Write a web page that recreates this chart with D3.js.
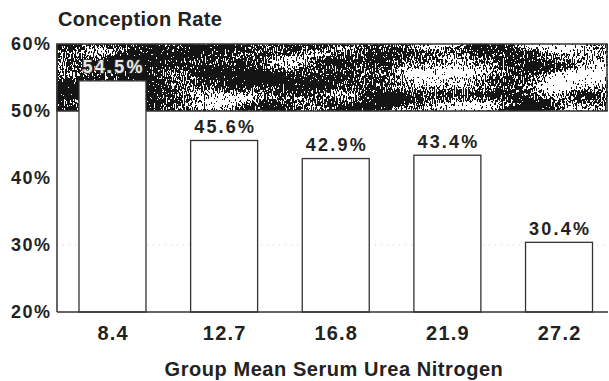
<!DOCTYPE html>
<html>
<head>
<meta charset="utf-8">
<script src="https://cdn.jsdelivr.net/npm/d3@7"></script>
<style>
  html, body { margin: 0; padding: 0; background: #fff; }
  svg { display: block; }
  text { font-family: "Liberation Sans", Arial, Helvetica, sans-serif; font-weight: bold; fill: #222; }
</style>
</head>
<body>
<svg id="chart" width="609" height="381"></svg>
<script>
// Conception rate by group mean serum urea nitrogen
const categories = ["8.4", "12.7", "16.8", "21.9", "27.2"];
const rates = [54.5, 45.6, 42.9, 43.4, 30.4];
const yTicks = [20, 30, 40, 50, 60];
const bandRange = [50, 60];   // shaded reference band
const gridLines = [30];

const W = 609, H = 381;
const svg = d3.select("#chart");
const margin = { left: 57, right: 1, top: 44, bottom: 69 };

const x = d3.scaleBand()
  .domain(categories)
  .range([margin.left, margin.left + 557.5])
  .paddingInner(0.4)
  .paddingOuter(0.197);

const y = d3.scaleLinear()
  .domain([20, 60])
  .range([H - margin.bottom, margin.top]);

const xRight = W - margin.right;

// grainy stipple texture for the band: fine streaky noise plus coarse blotches,
// shifted by a horizontal darkness gradient, then thresholded to black/white
const defs = svg.append("defs");
const grad = defs.append("linearGradient").attr("id", "bias")
  .attr("x1", 0).attr("x2", 1).attr("y1", 0).attr("y2", 0);
[[0, 0.7], [0.2, 0.76], [0.5, 0.7], [0.6, 0.62], [0.67, 0.4], [0.76, 0.44],
 [0.82, 0.7], [0.87, 0.6], [0.92, 0.36], [1, 0.4]].forEach(([o, v]) => {
  const g = Math.round(v * 255);
  grad.append("stop").attr("offset", o).attr("stop-color", `rgb(${g},${g},${g})`);
});

const f = defs.append("filter").attr("id", "grain")
  .attr("x", 0).attr("y", 0).attr("width", 1).attr("height", 1)
  .attr("color-interpolation-filters", "sRGB");
f.append("feTurbulence").attr("type", "fractalNoise").attr("baseFrequency", "0.9 0.3")
  .attr("numOctaves", 2).attr("seed", 4).attr("result", "fineRaw");
f.append("feColorMatrix").attr("in", "fineRaw").attr("type", "matrix")
  .attr("values", "1 0 0 0 0  1 0 0 0 0  1 0 0 0 0  0 0 0 0 1").attr("result", "fine");
f.append("feTurbulence").attr("type", "fractalNoise").attr("baseFrequency", "0.012 0.045")
  .attr("numOctaves", 2).attr("seed", 11).attr("result", "coarseRaw");
f.append("feColorMatrix").attr("in", "coarseRaw").attr("type", "matrix")
  .attr("values", "1 0 0 0 0  1 0 0 0 0  1 0 0 0 0  0 0 0 0 1").attr("result", "coarse");
f.append("feComposite").attr("in", "fine").attr("in2", "coarse").attr("operator", "arithmetic")
  .attr("k1", 0).attr("k2", 1.8).attr("k3", 1.5).attr("k4", -1.15).attr("result", "fc");
f.append("feComposite").attr("in", "fc").attr("in2", "SourceGraphic").attr("operator", "arithmetic")
  .attr("k1", 0).attr("k2", 1).attr("k3", 1).attr("k4", -0.5).attr("result", "v");
f.append("feColorMatrix").attr("in", "v").attr("type", "matrix")
  .attr("values", "0 0 0 0 0.08  0 0 0 0 0.08  0 0 0 0 0.08  1 0 0 0 0").attr("result", "alpha");
const ct = f.append("feComponentTransfer").attr("in", "alpha");
ct.append("feFuncA").attr("type", "discrete").attr("tableValues", "0 1");

const bandY = y(bandRange[1]), bandH = y(bandRange[0]) - y(bandRange[1]);
svg.append("rect")
  .attr("x", margin.left).attr("y", bandY)
  .attr("width", xRight - margin.left).attr("height", bandH)
  .attr("fill", "#fff");
svg.append("rect")
  .attr("x", margin.left).attr("y", bandY)
  .attr("width", xRight - margin.left).attr("height", bandH)
  .attr("fill", "url(#bias)").attr("filter", "url(#grain)");
svg.append("rect")
  .attr("x", margin.left).attr("y", bandY)
  .attr("width", xRight - margin.left - 1).attr("height", bandH)
  .attr("fill", "none").attr("stroke", "#333").attr("stroke-width", 1.5);

// faint dotted gridline
svg.selectAll(".grid").data(gridLines).join("line")
  .attr("x1", margin.left).attr("x2", xRight)
  .attr("y1", d => y(d)).attr("y2", d => y(d))
  .attr("stroke", "#ccc").attr("stroke-width", 1).attr("stroke-dasharray", "1,5");

// bars
svg.selectAll(".bar").data(rates).join("rect")
  .attr("x", (d, i) => x(categories[i]))
  .attr("y", d => y(d))
  .attr("width", x.bandwidth())
  .attr("height", d => y(20) - y(d))
  .attr("fill", "#fff").attr("stroke", "#333").attr("stroke-width", 1.3);

// value labels
const valSpacing = 2.2;
svg.selectAll(".val").data(rates).join("text")
  .attr("x", (d, i) => x(categories[i]) + x.bandwidth() / 2 + valSpacing / 2)
  .attr("y", d => y(d) - 7.5)
  .attr("text-anchor", "middle")
  .attr("font-size", 18)
  .attr("letter-spacing", valSpacing)
  .attr("paint-order", "stroke")
  .style("fill", d => d >= bandRange[0] ? "#e8e8e8" : "#222")
  .style("stroke", d => d >= bandRange[0] ? "#333" : "none")
  .style("stroke-width", 1.6)
  .text(d => d.toFixed(1) + "%");

// axis lines
svg.append("line").attr("x1", margin.left).attr("x2", margin.left)
  .attr("y1", y(60)).attr("y2", y(20)).attr("stroke", "#333").attr("stroke-width", 1.5);
svg.append("line").attr("x1", margin.left).attr("x2", xRight)
  .attr("y1", y(20)).attr("y2", y(20)).attr("stroke", "#333").attr("stroke-width", 1.5);

// y tick labels
svg.selectAll(".ytick").data(yTicks).join("text")
  .attr("x", 51.5).attr("y", d => y(d)).attr("dy", "0.36em")
  .attr("text-anchor", "end").attr("font-size", 18).attr("letter-spacing", 1.5)
  .text(d => d + "%");

// x tick labels
svg.selectAll(".xtick").data(categories).join("text")
  .attr("x", d => x(d) + x.bandwidth() / 2 + 0.6).attr("y", 340)
  .attr("text-anchor", "middle").attr("font-size", 20).attr("letter-spacing", 1.2)
  .text(d => d);

// titles
svg.append("text").attr("x", 58).attr("y", 26).attr("font-size", 20)
  .attr("letter-spacing", 0.35).text("Conception Rate");
svg.append("text").attr("x", 334).attr("y", 376).attr("text-anchor", "middle")
  .attr("font-size", 20).attr("letter-spacing", 0.55).text("Group Mean Serum Urea Nitrogen");
</script>
</body>
</html>
